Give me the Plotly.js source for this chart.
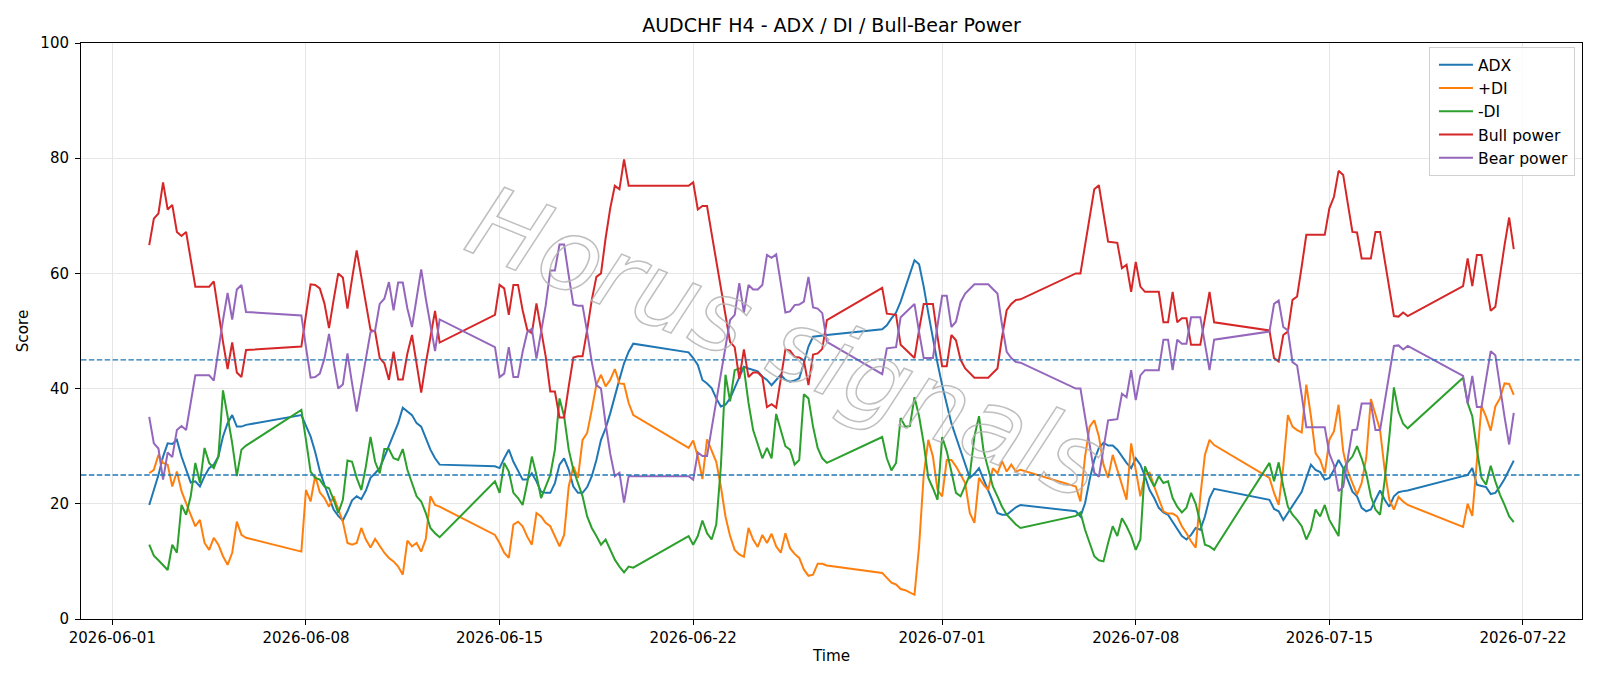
<!DOCTYPE html>
<html>
<head>
<meta charset="utf-8">
<script src="https://cdn.plot.ly/plotly-3.0.1.min.js"></script>
<style>
  html, body { margin: 0; padding: 0; background: #ffffff; }
  #chart { width: 1600px; height: 686px; }
</style>
</head>
<body>
<div id="chart"></div>
<script>
// H4 bar sessions (start time, number of 4-hour bars)
const segStarts = ["2026-06-02T08:00:00Z","2026-06-07T20:00:00Z","2026-06-14T20:00:00Z","2026-06-21T20:00:00Z",
                   "2026-06-28T20:00:00Z","2026-07-05T20:00:00Z","2026-07-12T20:00:00Z","2026-07-19T20:00:00Z"];
const segCounts = [22, 31, 31, 31, 31, 31, 31, 12];

const xTickVals = ["2026-06-01","2026-06-08","2026-06-15","2026-06-22","2026-07-01","2026-07-08","2026-07-15","2026-07-22"];
const xTickText = ["2026-06-01","2026-06-08","2026-06-15","2026-06-22","2026-07-01","2026-07-08","2026-07-15","2026-07-22"];
const yTickVals = [0, 20, 40, 60, 80, 100];
const levelLines = [25, 45];

const adx = [
  19.8,22.4,25.0,28.2,30.5,30.4,31.1,28.2,25.9,23.7,23.9,23.0,24.8,26.2,26.8,28.2,31.7,34.0,35.4,33.4,33.4,33.7,
  35.4,33.7,31.7,29.0,25.7,23.3,21.0,19.0,17.9,17.1,18.7,20.6,21.3,20.8,22.3,24.5,25.3,26.2,28.1,30.0,31.8,34.0,36.7,36.0,35.4,34.0,33.4,31.4,29.4,27.9,26.8,
  26.5,26.2,27.9,29.4,27.3,25.6,24.2,24.2,25.3,23.9,22.1,21.9,21.9,23.6,26.8,27.9,25.9,23.0,21.9,21.9,22.9,24.8,27.6,31.1,33.1,35.7,38.9,41.6,44.4,46.4,47.8,
  46.3,45.3,44.1,41.5,40.9,40.1,38.3,36.9,37.2,38.3,40.1,42.1,43.8,43.5,43.2,43.0,42.1,41.5,40.6,41.5,42.4,41.5,41.2,41.4,41.8,44.4,47.3,49.0,49.1,49.3,49.3,
  50.3,51.0,52.2,53.2,55.1,57.4,59.7,62.3,61.6,57.7,53.1,48.5,44.4,40.6,37.2,34.0,31.6,29.1,26.8,24.5,25.2,26.2,24.2,22.4,20.4,18.4,18.1,18.1,18.7,19.4,19.8,
  18.7,17.8,20.1,24.2,27.6,29.7,30.6,30.1,30.1,29.4,28.2,27.1,26.2,27.9,26.8,24.8,22.4,21.0,19.3,18.5,18.1,16.9,15.8,14.4,13.8,14.6,15.8,15.5,17.8,21.0,22.6,
  20.7,19.1,18.7,17.2,18.4,19.8,21.0,22.1,24.5,26.8,25.9,25.5,24.2,24.5,25.9,27.6,26.2,24.2,22.1,21.3,19.3,18.7,19.0,20.7,22.3,20.7,19.5,21.3,22.0,22.2,22.3,
  24.8,25.0,26.2,23.3,23.1,22.9,21.7,21.9,23.0,24.3,25.9,27.5
];
const plusDI = [
  25.3,25.9,28.5,27.1,26.8,23.0,25.6,22.2,20.1,18.1,16.1,17.2,13.2,12.0,14.1,12.9,10.9,9.4,11.5,16.9,14.6,14.1,
  11.7,22.4,20.4,24.9,22.0,21.0,19.5,21.3,19.0,16.9,13.2,12.9,13.2,15.8,13.8,12.4,13.9,12.6,11.5,10.6,10.0,9.1,7.7,13.6,12.6,13.2,11.7,13.9,21.3,19.8,19.5,
  14.6,13.2,11.5,10.6,16.4,16.9,16.1,14.3,12.9,18.4,17.8,16.7,16.1,14.3,12.6,14.6,23.0,26.5,24.5,31.1,32.3,36.3,40.7,42.4,40.4,41.5,43.4,40.9,40.8,37.5,35.4,
  29.7,31.0,28.2,24.3,31.2,29.4,27.3,23.0,17.8,14.4,12.0,11.2,10.8,15.8,13.8,12.5,14.6,13.2,14.8,12.6,11.5,14.9,12.3,11.3,10.6,8.6,7.5,7.7,9.6,9.6,9.3,
  8.0,7.1,6.3,6.0,5.2,5.0,4.6,4.2,12.6,25.0,31.1,28.2,22.4,21.3,27.6,27.6,26.5,25.0,23.6,18.4,16.7,24.5,23.3,22.4,26.2,25.3,27.4,25.6,26.8,25.6,25.9,
  23.0,20.4,28.2,33.4,34.5,31.7,26.8,24.5,28.5,25.9,23.3,20.7,30.5,25.9,21.3,25.0,25.4,23.0,20.7,18.7,18.3,18.3,17.8,16.1,14.9,13.5,12.4,21.3,28.5,31.1,30.2,
  24.5,21.9,19.8,26.5,35.4,33.4,32.8,32.4,40.7,35.2,28.8,27.6,25.3,31.1,32.6,37.2,29.1,25.6,23.6,21.6,23.6,28.0,38.2,35.4,32.8,25.9,20.7,19.0,21.2,20.4,19.8,
  16.0,20.0,17.9,27.6,37.0,35.1,32.7,36.9,38.3,40.9,40.8,38.9
];
const minusDI = [
  12.9,11.0,10.2,9.3,8.5,12.9,11.5,19.8,18.1,21.3,27.1,23.6,29.7,27.1,26.2,28.2,39.7,35.2,30.5,24.8,29.4,30.1,
  36.3,31.1,25.6,24.5,24.2,23.0,22.7,20.7,18.4,20.7,27.5,27.3,24.5,22.4,26.5,31.6,27.3,25.3,29.5,29.5,27.9,27.6,29.5,25.9,23.6,21.3,20.4,18.4,15.8,14.9,14.2,
  23.9,21.9,27.1,25.6,21.9,21.0,19.8,23.6,28.2,25.0,21.0,23.0,25.0,29.4,38.3,35.2,29.4,25.9,23.6,21.3,17.8,15.8,14.4,12.9,13.8,12.0,10.3,9.1,8.1,9.1,8.9,
  14.4,12.9,14.4,17.1,14.9,13.8,16.4,26.5,42.4,37.8,43.2,43.5,43.5,37.5,32.8,30.5,27.9,29.7,27.9,35.6,32.8,30.0,29.4,26.8,27.6,39.0,38.3,33.4,29.7,27.9,27.1,
  31.6,27.9,25.8,27.1,34.9,33.4,33.5,38.5,35.2,30.5,24.5,22.7,20.7,31.6,29.1,25.6,21.9,21.3,23.3,25.0,31.7,35.2,29.1,25.9,23.0,21.3,19.5,18.1,17.2,16.4,15.8,
  17.9,18.5,15.5,13.2,10.9,10.2,10.0,13.2,16.1,14.4,17.5,16.1,14.4,12.0,13.8,26.5,24.5,23.0,24.8,23.6,23.9,21.0,19.5,18.5,19.3,21.9,20.0,16.7,12.9,12.6,12.0,
  27.1,23.9,27.2,23.0,19.5,18.1,17.2,16.1,13.8,15.5,19.0,17.8,19.8,17.2,15.8,14.4,25.9,27.3,28.2,30.0,27.9,25.3,21.3,19.0,18.1,24.1,31.6,40.2,36.0,33.9,33.1,
  41.9,37.5,35.2,29.4,24.5,23.3,26.6,23.9,21.6,19.8,17.8,16.8
];
const bullPower = [
  64.9,69.5,70.4,75.8,71.1,71.9,67.2,66.5,67.2,62.3,57.7,57.7,57.7,57.7,58.6,53.1,48.1,43.4,48.0,42.8,42.0,46.7,
  47.3,52.8,58.1,58.0,57.4,54.8,50.5,55.4,60.0,59.3,53.9,59.1,64.0,59.4,54.8,50.2,49.9,45.3,44.4,41.5,46.4,41.6,41.6,46.1,49.3,44.4,39.3,44.4,49.0,53.5,48.0,
  52.8,58.0,57.4,52.8,58.0,58.0,53.6,50.2,49.6,54.8,50.2,45.6,39.5,39.5,35.0,35.0,40.4,45.4,45.6,45.6,50.2,55.4,59.4,60.0,66.1,71.3,75.2,74.6,79.8,75.2,75.2,
  75.2,75.8,71.1,71.7,71.7,66.9,62.2,57.6,52.7,48.1,47.2,41.7,46.8,42.0,42.8,42.8,42.0,36.8,37.3,36.7,41.7,46.8,46.6,45.5,45.4,44.9,40.6,45.9,46.1,46.9,51.9,
  57.5,53.0,52.9,52.8,47.6,46.8,46.0,45.3,50.2,54.7,54.7,54.7,49.0,43.9,43.9,49.3,48.4,45.0,43.5,42.7,41.9,41.9,41.9,41.9,42.7,43.5,49.0,53.6,54.7,55.4,55.5,
  60.0,60.0,64.9,69.8,74.6,75.3,70.4,65.5,65.4,65.3,60.9,61.5,56.8,62.0,57.7,56.8,56.8,56.8,56.8,51.5,51.5,56.8,51.5,52.2,52.2,47.6,47.6,47.6,52.2,56.8,51.5,
  50.1,45.3,44.7,49.3,49.9,55.4,56.0,61.2,66.7,66.7,66.7,66.7,66.7,71.3,73.3,77.8,77.1,72.1,67.2,67.1,62.6,62.6,62.6,67.2,67.2,62.3,57.4,52.6,52.5,53.2,52.6,
  57.8,62.6,57.8,63.2,63.2,58.3,53.5,54.2,59.7,64.9,69.7,64.2
];
const bearPower = [
  35.1,30.5,29.6,24.2,28.9,28.1,32.8,33.5,32.8,37.7,42.3,42.3,42.3,42.3,41.4,46.9,51.9,56.6,52.0,57.2,58.0,53.3,
  52.7,47.2,41.9,42.0,42.6,45.2,49.5,44.6,40.0,40.7,46.1,40.9,36.0,40.6,45.2,49.8,50.1,54.7,55.6,58.5,53.6,58.4,58.4,53.9,50.7,55.6,60.7,55.6,51.0,46.5,52.0,
  47.2,42.0,42.6,47.2,42.0,42.0,46.4,49.8,50.4,45.2,49.8,54.4,60.5,60.5,65.0,65.0,59.6,54.6,54.4,54.4,49.8,44.6,40.6,40.0,33.9,28.7,24.8,25.4,20.2,24.8,24.8,
  24.8,24.2,28.9,28.3,28.3,33.1,37.8,42.4,47.3,51.9,52.8,58.3,53.2,58.0,57.2,57.2,58.0,63.2,62.7,63.3,58.3,53.2,53.4,54.5,54.6,55.1,59.4,54.1,53.9,53.1,48.1,
  42.5,47.0,47.1,47.2,52.4,53.2,54.0,54.7,49.8,45.3,45.3,45.3,51.0,56.1,56.1,50.7,51.6,55.0,56.5,57.3,58.1,58.1,58.1,58.1,57.3,56.5,51.0,46.4,45.3,44.6,44.5,
  40.0,40.0,35.1,30.2,25.4,24.7,29.6,34.5,34.6,34.7,39.1,38.5,43.2,38.0,42.3,43.2,43.2,43.2,43.2,48.5,48.5,43.2,48.5,47.8,47.8,52.4,52.4,52.4,47.8,43.2,48.5,
  49.9,54.7,55.3,50.7,50.1,44.6,44.0,38.8,33.3,33.3,33.3,33.3,33.3,28.7,26.7,22.2,22.9,27.9,32.8,32.9,37.4,37.4,37.4,32.8,32.8,37.7,42.6,47.4,47.5,46.8,47.4,
  42.2,37.4,42.2,36.8,36.8,41.7,46.5,45.8,40.3,35.1,30.3,35.8
];

const seriesNames = ["ADX", "+DI", "-DI", "Bull power", "Bear power"];
const seriesColors = ["#1f77b4", "#ff7f0e", "#2ca02c", "#d62728", "#9467bd"];
const seriesValues = [adx, plusDI, minusDI, bullPower, bearPower];

function fmt(ms) { return new Date(ms).toISOString().slice(0, 19).replace("T", " "); }
const times = [];
segStarts.forEach((s, i) => {
  const t0 = Date.parse(s);
  for (let k = 0; k < segCounts[i]; k++) times.push(fmt(t0 + k * 4 * 3600e3));
});
const tFirst = Date.parse(times[0].replace(" ", "T") + "Z");
const tLast = Date.parse(times[times.length - 1].replace(" ", "T") + "Z");
const pad = 0.05 * (tLast - tFirst);

const traces = seriesNames.map((name, i) => ({
  type: "scatter", mode: "lines", name: name,
  x: times, y: seriesValues[i],
  line: { color: seriesColors[i], width: 2 },
  hoverinfo: "skip"
}));

const FONT = "DejaVu Sans, Liberation Sans, sans-serif";
const TICK = 15;
const LBL = 15.2;
const axisCommon = {
  showline: true, linecolor: "#000000", linewidth: 1, mirror: true,
  ticks: "outside", ticklen: 5, tickwidth: 1, tickcolor: "#000000",
  showgrid: true, gridcolor: "#e6e6e6", gridwidth: 1,
  zeroline: false, tickfont: { family: FONT, size: TICK, color: "#000000" }
};

const layout = {
  width: 1600, height: 686,
  paper_bgcolor: "#ffffff", plot_bgcolor: "#ffffff",
  margin: { l: 81, r: 18, t: 43, b: 67 },
  font: { family: FONT, color: "#000000" },
  title: { text: "AUDCHF H4 - ADX / DI / Bull-Bear Power", font: { family: FONT, size: 19, color: "#000000" },
           xref: "paper", x: 0.5, xanchor: "center", yref: "container", y: 1 - 25.5 / 686, yanchor: "middle" },
  xaxis: Object.assign({}, axisCommon, {
    type: "date", range: [fmt(tFirst - pad), fmt(tLast + pad)],
    tickmode: "array", tickvals: xTickVals, ticktext: xTickText,
    ticklabelstandoff: 0,
    title: { text: "Time", font: { family: FONT, size: LBL, color: "#000000" }, standoff: 4 }
  }),
  yaxis: Object.assign({}, axisCommon, {
    range: [0, 100], tickmode: "array", tickvals: yTickVals,
    ticklabelstandoff: 3,
    title: { text: "Score", font: { family: FONT, size: LBL, color: "#000000" }, standoff: 8 }
  }),
  shapes: levelLines.map(v => ({
    type: "line", xref: "paper", x0: 0, x1: 1, yref: "y", y0: v, y1: v,
    line: { color: "#1f77b4", width: 1.3, dash: "5.5px,2.4px" }, layer: "above"
  })),
  legend: {
    x: 0.9953, xanchor: "right", y: 0.993, yanchor: "top",
    bgcolor: "rgba(255,255,255,0.8)", bordercolor: "#d0d0d0", borderwidth: 1,
    itemwidth: 34, indentation: 4,
    font: { family: FONT, size: 15.6, color: "#000000" }
  },
  annotations: [{
    text: "Horus signals", xref: "paper", yref: "paper", x: 0.47, y: 0.48,
    showarrow: false, textangle: 22,
    font: { family: FONT, size: 100, color: "rgba(190,190,190,0.9)", style: "italic" }
  }],
  showlegend: true
};

Plotly.newPlot("chart", traces, layout, { displayModeBar: false, staticPlot: true }).then(() => {
  document.querySelectorAll("#chart .annotation-text").forEach(t => {
    t.style.setProperty("fill", "rgba(255,255,255,0)");
    t.style.setProperty("stroke", "rgba(180,180,180,0.85)");
    t.style.setProperty("stroke-width", "1.5px");
  });
});
</script>
</body>
</html>
